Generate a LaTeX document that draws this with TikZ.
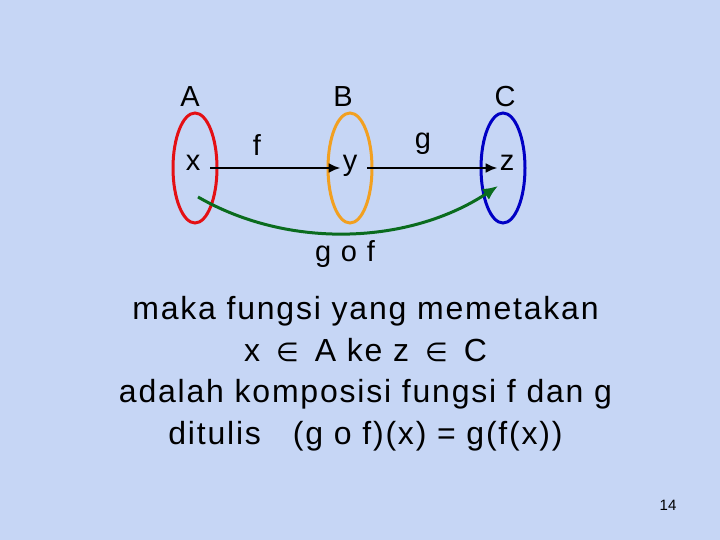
\documentclass[tikz,border=0pt]{standalone}
\usepackage{fontspec}
\setmainfont{Liberation Sans}
\newfontfamily\slidefont[LetterSpace=5.6]{Liberation Sans}
\newfontfamily\symfont{DejaVu Sans}
\usetikzlibrary{shapes.geometric,arrows.meta}
\definecolor{bgblue}{RGB}{198,214,245}
\definecolor{setred}{RGB}{228,16,20}
\definecolor{setorange}{RGB}{242,160,32}
\definecolor{setblue}{RGB}{0,0,196}
\definecolor{compgreen}{RGB}{10,108,30}
\newcommand{\elt}{\,{\symfont\fontsize{26}{28}\selectfont ∈}\,}

\begin{document}
\begin{tikzpicture}[x=1pt,y=-1pt,
	set/.style={draw,ellipse,line width=3pt,minimum width=44pt,minimum height=110pt,inner sep=0pt},
	lbl/.style={anchor=base,inner sep=0pt,font=\slidefont\fontsize{29}{33}\selectfont},
	elem/.style={inner sep=2pt,text height=0.52em,text depth=0pt,font=\fontsize{29}{33}\selectfont},
	txt/.style={anchor=base,inner sep=0pt,font=\slidefont\fontsize{32}{42}\selectfont},
	fun/.style={->,>={Latex[length=12pt,width=10pt]},line width=2.5pt,shorten <=8pt},
	comp/.style={->,>={Latex[length=15pt,width=13pt]},line width=3pt,compgreen}]
	\useasboundingbox (0,0) rectangle (720,540);
	\fill[bgblue] (0,0) rectangle (720,540);
	
	%SETS
	\node[set,setred] (setA) at (195,168) {};
	\node[set,setorange] (setB) at (350,168) {};
	\node[set,setblue] (setC) at (503,168) {};
	%
	\node[lbl] (labA) at (190,107) {A};
	\node[lbl] (labB) at (343,107) {B};
	\node[lbl] (labC) at (505,107) {C};
	
	%ELEMENTS
	\node[elem] (x) at (193,168) {x};
	\node[elem] (y) at (350,168) {y};
	\node[elem] (z) at (507,168) {z};
	
	%MAPPINGS
	\draw[fun] (x) -- (y);
	\draw[fun] (y) -- (z);
	\node[lbl] (labf) at (257,156) {f};
	\node[lbl] (labg) at (423,149) {g};
	%
	\coordinate (gofs) at (198,197);
	\coordinate (gofe) at (498,186);
	\draw[comp] (gofs) .. controls (290,250) and (410,244) .. (gofe);
	\node[lbl] (labgof) at (345,261) {g o f};
	
	%TEXT
	\node[txt] (line1) at (365.5,319) {maka fungsi yang memetakan};
	\node[txt] (line2) at (365.5,361) {x \elt\ A ke z \elt\ C};
	\node[txt] (line3) at (365.5,402) {adalah komposisi fungsi f dan g};
	\node[txt] (line4) at (365.5,444) {ditulis\ \ \ (g o f)(x) = g(f(x))};
	%
	\node[anchor=base,inner sep=0pt,font=\fontsize{15}{18}\selectfont] (page) at (668,510) {14};
\end{tikzpicture}
\end{document}
